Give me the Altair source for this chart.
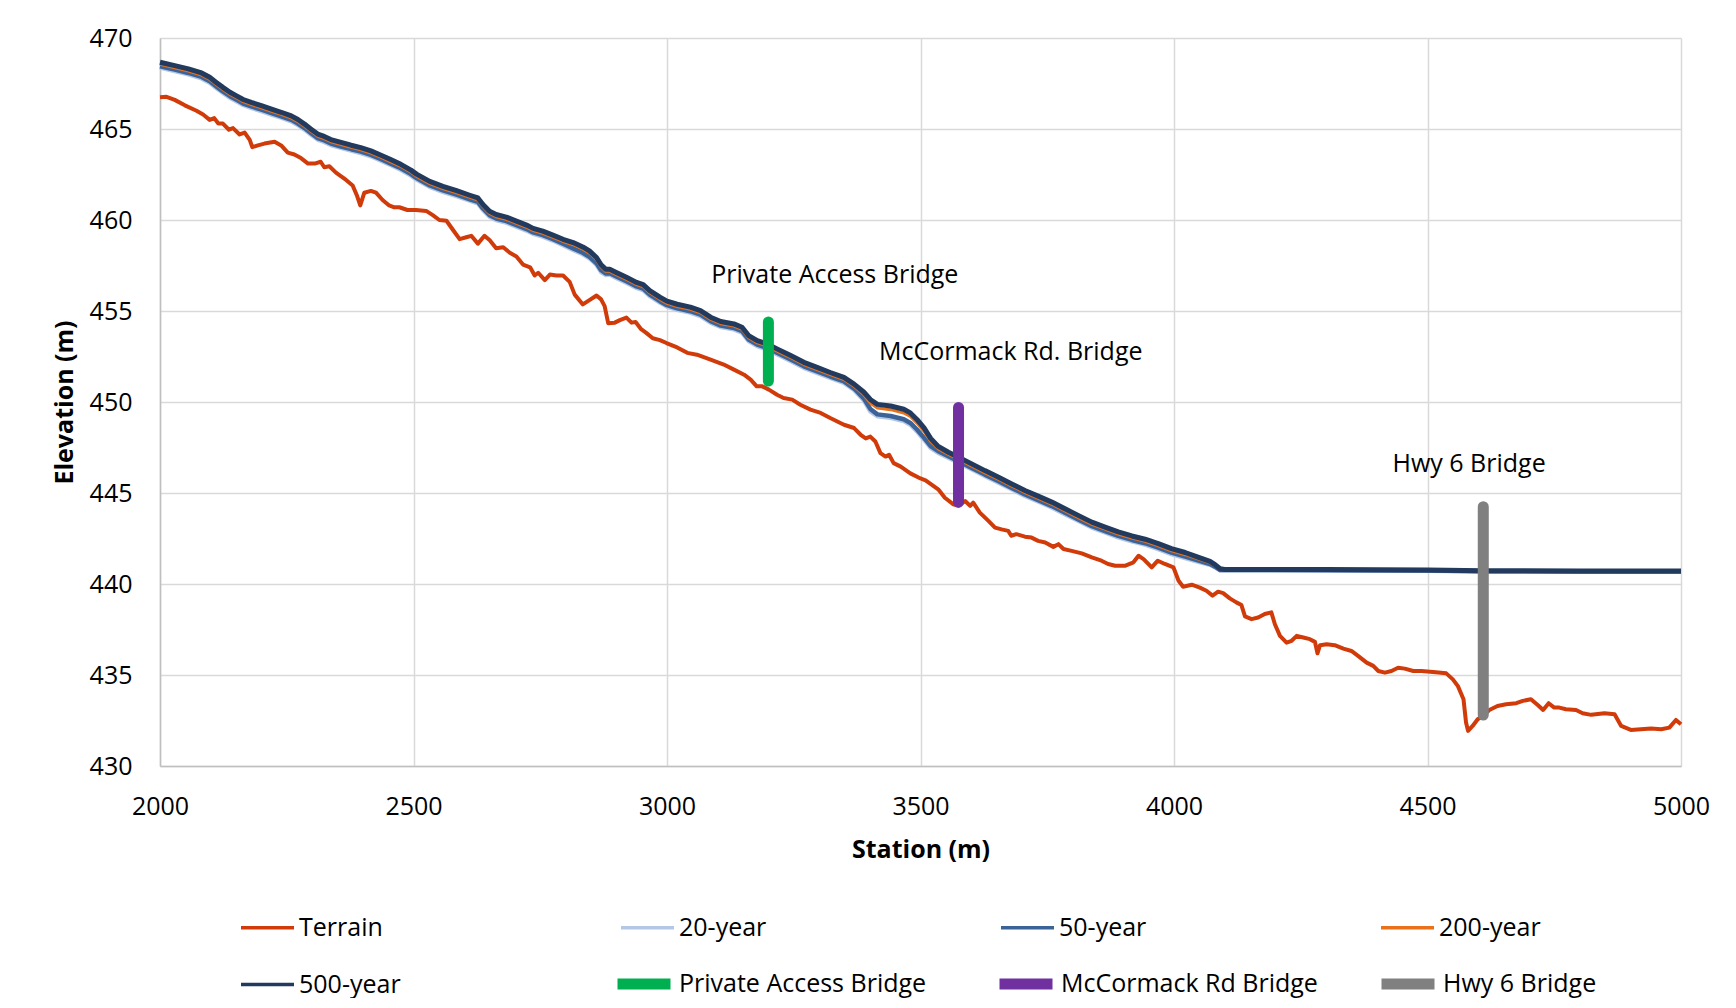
import altair as alt
import pandas as pd

# ---------------- data ----------------
terrain_station = [
    2000, 2013, 2029, 2049, 2072, 2085, 2098, 2107, 2115, 2124, 2136, 2144, 2157, 2167, 2177, 2182,
    2193, 2206, 2226, 2239, 2252, 2265, 2278, 2292, 2305, 2317, 2324, 2334, 2347, 2367, 2380, 2389,
    2395, 2403, 2416, 2426, 2439, 2452, 2462, 2472, 2488, 2505, 2525, 2538, 2551, 2565, 2578, 2591,
    2604, 2614, 2627, 2640, 2650, 2663, 2677, 2690, 2703, 2716, 2730, 2739, 2746, 2759, 2769, 2782,
    2795, 2808, 2818, 2834, 2847, 2861, 2870, 2877, 2884, 2897, 2907, 2920, 2930, 2938, 2949, 2959,
    2972, 2986, 2999, 3020, 3040, 3059, 3086, 3112, 3132, 3152, 3165, 3177, 3188, 3201, 3217, 3230,
    3247, 3263, 3283, 3303, 3322, 3336, 3349, 3369, 3382, 3392, 3401, 3411, 3421, 3431, 3438, 3447,
    3461, 3480, 3500, 3510, 3535, 3548, 3565, 3575, 3588, 3598, 3604, 3617, 3634, 3647, 3660, 3673,
    3679, 3689, 3706, 3719, 3732, 3746, 3762, 3772, 3782, 3798, 3818, 3838, 3857, 3870, 3884, 3903,
    3920, 3930, 3940, 3956, 3968, 3982, 3999, 4009, 4018, 4035, 4051, 4064, 4076, 4087, 4097, 4110,
    4123, 4133, 4140, 4153, 4166, 4179, 4192, 4199, 4209, 4222, 4232, 4242, 4255, 4268, 4278, 4283,
    4288, 4301, 4317, 4334, 4350, 4363, 4380, 4393, 4403, 4416, 4429, 4442, 4455, 4472, 4488, 4511,
    4537, 4550, 4560, 4566, 4571, 4576, 4580, 4589, 4599, 4609, 4622, 4638, 4655, 4675, 4688, 4704,
    4718, 4728, 4739, 4750, 4760, 4773, 4793, 4806, 4823, 4849, 4869, 4882, 4901, 4921, 4941, 4961,
    4977, 4990, 5000,
]
terrain_elev = [
    466.75, 466.77, 466.60, 466.30, 466.00, 465.80, 465.50, 465.60, 465.30, 465.30, 464.96, 465.05, 464.70, 464.80, 464.40, 464.00,
    464.10, 464.20, 464.30, 464.10, 463.70, 463.60, 463.40, 463.10, 463.10, 463.20, 462.90, 462.95, 462.60, 462.20, 461.90, 461.30,
    460.80, 461.50, 461.60, 461.50, 461.10, 460.80, 460.70, 460.70, 460.55, 460.55, 460.50, 460.27, 460.00, 459.96, 459.45, 458.95,
    459.05, 459.13, 458.70, 459.13, 458.90, 458.45, 458.50, 458.20, 458.00, 457.55, 457.40, 456.95, 457.10, 456.70, 457.00, 456.95,
    456.95, 456.60, 455.90, 455.36, 455.60, 455.85, 455.64, 455.27, 454.33, 454.36, 454.50, 454.64, 454.36, 454.40, 454.00, 453.80,
    453.50, 453.40, 453.24, 453.00, 452.70, 452.60, 452.33, 452.06, 451.78, 451.50, 451.23, 450.86, 450.86, 450.68, 450.40, 450.22,
    450.13, 449.85, 449.58, 449.40, 449.12, 448.93, 448.75, 448.57, 448.20, 448.00, 448.10, 447.83, 447.19, 447.00, 447.10, 446.64,
    446.45, 446.08, 445.80, 445.70, 445.20, 444.74, 444.38, 444.29, 444.56, 444.29, 444.47, 443.92, 443.47, 443.10, 443.00, 442.92,
    442.65, 442.74, 442.60, 442.55, 442.37, 442.28, 442.04, 442.19, 441.92, 441.82, 441.68, 441.46, 441.28, 441.10, 441.00, 441.00,
    441.19, 441.55, 441.37, 440.91, 441.28, 441.10, 440.91, 440.18, 439.85, 439.96, 439.80, 439.63, 439.36, 439.58, 439.50, 439.21,
    438.99, 438.84, 438.22, 438.07, 438.16, 438.35, 438.44, 437.79, 437.15, 436.78, 436.88, 437.15, 437.06, 436.97, 436.82, 436.19,
    436.64, 436.69, 436.64, 436.45, 436.32, 436.05, 435.68, 435.50, 435.22, 435.13, 435.22, 435.40, 435.35, 435.22, 435.22, 435.17,
    435.09, 434.76, 434.39, 434.00, 433.67, 432.39, 431.93, 432.20, 432.57, 432.75, 433.08, 433.30, 433.39, 433.45, 433.58, 433.67,
    433.34, 433.08, 433.45, 433.21, 433.21, 433.12, 433.08, 432.90, 432.81, 432.90, 432.84, 432.20, 431.98, 432.02, 432.06, 432.02,
    432.11, 432.53, 432.29,
]

ws_station = [
    2000, 2029, 2056, 2082, 2098, 2111, 2124, 2138, 2151, 2164, 2180, 2200, 2220, 2239, 2259, 2272,
    2285, 2298, 2311, 2324, 2337, 2357, 2377, 2396, 2416, 2436, 2455, 2475, 2495, 2506, 2532, 2558,
    2585, 2611, 2627, 2637, 2650, 2663, 2683, 2703, 2723, 2736, 2755, 2775, 2795, 2815, 2834, 2847,
    2861, 2870, 2879, 2887, 2900, 2920, 2940, 2953, 2966, 2986, 3000, 3020, 3046, 3066, 3086, 3106,
    3132, 3148, 3161, 3178, 3198, 3217, 3244, 3270, 3296, 3322, 3349, 3369, 3388, 3401, 3415, 3441,
    3467, 3480, 3493, 3507, 3520, 3535, 3555, 3575, 3601, 3627, 3654, 3680, 3706, 3732, 3759, 3785,
    3811, 3838, 3864, 3890, 3917, 3943, 3969, 3995, 4022, 4050, 4071, 4081, 4091, 4100, 4300, 4500,
    4610, 4800, 5000,
]
ws_20 = [
    468.37, 468.18, 468.00, 467.78, 467.54, 467.26, 466.99, 466.72, 466.52, 466.32, 466.16, 465.98, 465.79, 465.62, 465.42, 465.22,
    464.97, 464.69, 464.42, 464.29, 464.12, 463.96, 463.81, 463.68, 463.50, 463.26, 463.02, 462.76, 462.44, 462.22, 461.82, 461.55,
    461.31, 461.06, 460.91, 460.55, 460.18, 460.00, 459.86, 459.64, 459.42, 459.24, 459.09, 458.87, 458.62, 458.36, 458.12, 457.90,
    457.54, 457.14, 456.98, 457.00, 456.82, 456.55, 456.27, 456.15, 455.82, 455.46, 455.24, 455.07, 454.91, 454.72, 454.36, 454.12,
    453.99, 453.81, 453.35, 453.07, 452.89, 452.62, 452.25, 451.88, 451.60, 451.32, 451.05, 450.66, 450.10, 449.49, 449.22, 449.13,
    448.95, 448.75, 448.39, 447.93, 447.48, 447.20, 446.94, 446.66, 446.30, 445.93, 445.57, 445.20, 444.84, 444.53, 444.20, 443.83,
    443.47, 443.10, 442.83, 442.56, 442.34, 442.16, 441.92, 441.64, 441.43, 441.20, 441.06, 440.92, 440.75, 440.76, 440.75, 440.73,
    440.69, 440.68, 440.67,
]
ws_50 = [
    468.45, 468.26, 468.08, 467.86, 467.62, 467.34, 467.07, 466.80, 466.60, 466.40, 466.24, 466.06, 465.87, 465.70, 465.50, 465.30,
    465.05, 464.77, 464.50, 464.37, 464.20, 464.04, 463.89, 463.76, 463.58, 463.34, 463.10, 462.84, 462.52, 462.30, 461.90, 461.63,
    461.39, 461.14, 460.99, 460.63, 460.26, 460.08, 459.94, 459.72, 459.50, 459.32, 459.17, 458.95, 458.70, 458.44, 458.20, 457.98,
    457.62, 457.24, 457.06, 457.08, 456.90, 456.63, 456.35, 456.23, 455.90, 455.54, 455.32, 455.15, 454.99, 454.80, 454.44, 454.20,
    454.07, 453.89, 453.43, 453.15, 452.97, 452.70, 452.33, 451.96, 451.68, 451.40, 451.13, 450.74, 450.20, 449.62, 449.32, 449.23,
    449.05, 448.85, 448.49, 448.03, 447.58, 447.30, 447.02, 446.74, 446.38, 446.01, 445.65, 445.28, 444.92, 444.61, 444.28, 443.91,
    443.55, 443.18, 442.91, 442.64, 442.42, 442.24, 442.00, 441.72, 441.51, 441.27, 441.10, 440.95, 440.77, 440.77, 440.76, 440.74,
    440.70, 440.69, 440.68,
]
ws_200 = [
    468.55, 468.36, 468.18, 467.96, 467.72, 467.44, 467.17, 466.90, 466.70, 466.50, 466.34, 466.16, 465.97, 465.80, 465.60, 465.40,
    465.15, 464.87, 464.60, 464.47, 464.30, 464.14, 463.99, 463.86, 463.68, 463.44, 463.20, 462.94, 462.62, 462.40, 462.00, 461.73,
    461.49, 461.24, 461.09, 460.73, 460.36, 460.18, 460.04, 459.82, 459.60, 459.42, 459.27, 459.05, 458.82, 458.64, 458.40, 458.18,
    457.82, 457.42, 457.18, 457.18, 457.00, 456.73, 456.45, 456.33, 456.00, 455.64, 455.42, 455.25, 455.09, 454.90, 454.54, 454.30,
    454.17, 453.99, 453.53, 453.25, 453.07, 452.80, 452.43, 452.06, 451.78, 451.50, 451.23, 450.86, 450.40, 449.94, 449.67, 449.58,
    449.40, 449.20, 448.84, 448.38, 447.83, 447.42, 447.12, 446.84, 446.48, 446.11, 445.75, 445.38, 445.02, 444.71, 444.38, 444.01,
    443.65, 443.28, 443.01, 442.74, 442.52, 442.34, 442.10, 441.82, 441.61, 441.35, 441.16, 441.00, 440.80, 440.78, 440.77, 440.75,
    440.71, 440.70, 440.69,
]
ws_500 = [
    468.67, 468.48, 468.30, 468.08, 467.84, 467.56, 467.29, 467.02, 466.82, 466.62, 466.46, 466.28, 466.09, 465.92, 465.72, 465.52,
    465.27, 464.99, 464.72, 464.59, 464.42, 464.26, 464.11, 463.98, 463.80, 463.56, 463.32, 463.06, 462.74, 462.52, 462.12, 461.85,
    461.61, 461.36, 461.21, 460.85, 460.48, 460.30, 460.16, 459.94, 459.72, 459.54, 459.39, 459.17, 458.94, 458.76, 458.52, 458.30,
    457.94, 457.54, 457.30, 457.30, 457.12, 456.85, 456.57, 456.45, 456.12, 455.76, 455.54, 455.37, 455.21, 455.02, 454.66, 454.42,
    454.29, 454.11, 453.65, 453.37, 453.19, 452.92, 452.55, 452.18, 451.90, 451.62, 451.35, 450.98, 450.55, 450.14, 449.87, 449.78,
    449.60, 449.40, 449.04, 448.58, 448.00, 447.56, 447.24, 446.96, 446.60, 446.23, 445.87, 445.50, 445.14, 444.83, 444.50, 444.13,
    443.77, 443.40, 443.13, 442.86, 442.64, 442.46, 442.22, 441.94, 441.73, 441.45, 441.24, 441.06, 440.84, 440.80, 440.79, 440.77,
    440.73, 440.72, 440.71,
]

bridge_names = ["Private Access Bridge", "McCormack Rd Bridge", "Hwy 6 Bridge"]
bridge_station = [3200, 3575, 4610]
bridge_bottom = [451.15, 444.5, 432.8]
bridge_top = [454.4, 449.7, 444.25]

note_text = ["Private Access Bridge", "McCormack Rd. Bridge", "Hwy 6 Bridge"]
note_station = [3331, 3678, 4582]
note_elev = [456.56, 452.31, 446.17]

x_ticks = [2000, 2500, 3000, 3500, 4000, 4500, 5000]
y_ticks = [430, 435, 440, 445, 450, 455, 460, 465, 470]

line_names = ["Terrain", "20-year", "50-year", "200-year", "500-year"]
line_colors = ["#D13B0A", "#B4C7E7", "#3C6398", "#E9711C", "#213A5E"]
line_widths = [4, 4.5, 4.5, 3, 5]
bridge_colors = ["#00B050", "#7030A0", "#808080"]

FONT = "Open Sans"

# ---------------- tables ----------------
rows = []
for s, e in zip(terrain_station, terrain_elev):
    rows.append({"series": "Terrain", "station": s, "elev": e})
for name, vals in [("20-year", ws_20), ("50-year", ws_50), ("200-year", ws_200), ("500-year", ws_500)]:
    for s, e in zip(ws_station, vals):
        rows.append({"series": name, "station": s, "elev": e})
lines_df = pd.DataFrame(rows)

bridges_df = pd.DataFrame({"bridge": bridge_names, "station": bridge_station,
                           "bottom": bridge_bottom, "top": bridge_top})
notes_df = pd.DataFrame({"label": note_text, "station": note_station, "elev": note_elev})

x_scale = alt.Scale(domain=[2000, 5000], nice=False, zero=False)
y_scale = alt.Scale(domain=[430, 470], nice=False, zero=False)
x_axis = alt.Axis(values=x_ticks, title="Station (m)", format="d", labelPadding=28,
                  labelFlush=False, titleY=83, titleBaseline="middle")
y_axis = alt.Axis(values=y_ticks, title="Elevation (m)", format="d", labelPadding=28,
                  labelFlush=False, titleX=-96, titleY=364, titleBaseline="middle",
                  titleAlign="center", titleAngle=270)


def xenc():
    return alt.X("station:Q", scale=x_scale, axis=x_axis)


def yenc(field):
    return alt.Y(field, scale=y_scale, axis=y_axis)


line_legend = alt.Legend(title=None, orient="none", legendX=79, legendY=861, columns=4,
                         direction="horizontal", values=line_names,
                         gridAlign="all", columnPadding=213, rowPadding=15,
                         symbolType="stroke", symbolSize=2809, symbolStrokeWidth=3.5,
                         labelFont=FONT, labelFontSize=25, labelColor="black",
                         labelOffset=3, labelLimit=0, padding=0)
bridge_legend = alt.Legend(title=None, orient="none", legendX=452, legendY=914, columns=3,
                           direction="horizontal", values=bridge_names,
                           gridAlign="all", columnPadding=41, rowPadding=0,
                           symbolType="stroke", symbolSize=2809, symbolStrokeWidth=11,
                           labelFont=FONT, labelFontSize=25, labelColor="black",
                           labelOffset=3, labelLimit=0, padding=0)

stroke_enc = alt.Stroke("series:N", scale=alt.Scale(domain=line_names, range=line_colors),
                        sort=line_names, legend=line_legend)

layers = []
for name, w in zip(line_names, line_widths):
    layers.append(
        alt.Chart(lines_df)
        .transform_filter(alt.datum.series == name)
        .mark_line(strokeWidth=w, strokeJoin="round")
        .encode(x=xenc(), y=yenc("elev:Q"), stroke=stroke_enc)
    )

rules = alt.Chart(bridges_df).mark_rule(strokeWidth=11, strokeCap="round").encode(
    x=xenc(), y=yenc("bottom:Q"), y2="top:Q",
    color=alt.Color("bridge:N", scale=alt.Scale(domain=bridge_names, range=bridge_colors),
                    sort=bridge_names, legend=bridge_legend),
)

notes = alt.Chart(notes_df).mark_text(font=FONT, fontSize=25, align="center",
                                      baseline="alphabetic", color="black").encode(
    x=xenc(), y=yenc("elev:Q"), text="label:N"
)

chart = (
    alt.layer(*layers, rules, notes)
    .properties(width=1521, height=728,
                padding={"left": 152, "top": 30, "right": 40, "bottom": 232},
                autosize=alt.AutoSizeParams(type="none"))
    .configure_view(strokeWidth=0)
    .configure_axis(gridColor="#d9d9d9", gridWidth=1.5, domainColor="#bfbfbf", domainWidth=1.5,
                    ticks=False, tickSize=0, labelFont=FONT, labelFontSize=25, labelColor="black",
                    titleFont=FONT, titleFontSize=25, titleFontWeight="bold", titleColor="black")
)

chart.save("out.html", embed_options={"renderer": "svg", "actions": False})
